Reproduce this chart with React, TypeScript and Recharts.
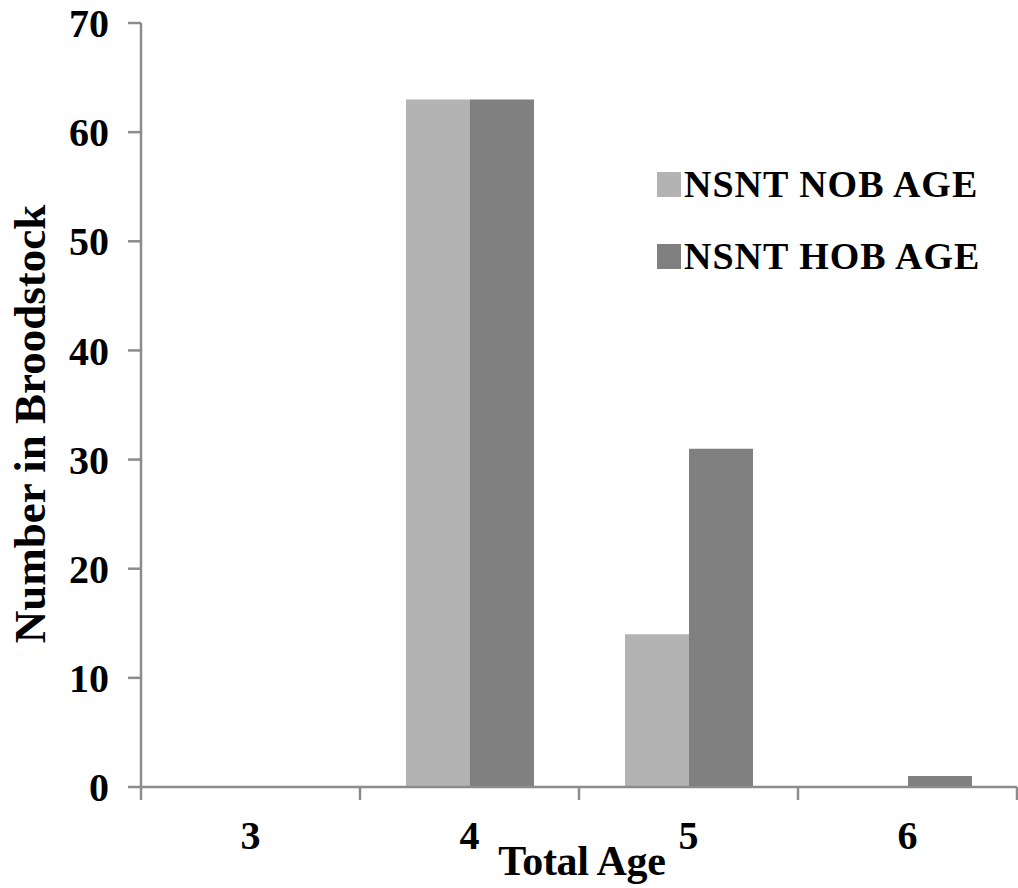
import React from "react";
import { BarChart, Bar, XAxis, YAxis, Legend } from "recharts";

const ages = ["3", "4", "5", "6"];
const nobAge = [0, 63, 14, 0];
const hobAge = [0, 63, 31, 1];
const yTicks = [0, 10, 20, 30, 40, 50, 60, 70];

const seriesNames = { nob: "NSNT NOB AGE", hob: "NSNT HOB AGE" };
const colors = { nob: "#b3b3b3", hob: "#808080" };

const data = ages.map((age, i) => ({ age, nob: nobAge[i], hob: hobAge[i] }));

const W = 1018;
const H = 888;
const LEFT = 141;
const RIGHT = 1;
const PLOT_W = W - LEFT - RIGHT;
const FONT = "'Liberation Serif', 'Times New Roman', serif";
const AXIS = "#8c8c8c";

// tick mark between categories, label in the middle
function AgeTick(props: any) {
  const { x, y, payload, index } = props;
  const band = PLOT_W / ages.length;
  return (
    <g>
      <line x1={x - band / 2} x2={x - band / 2} y1={y} y2={y + 13} stroke={AXIS} strokeWidth={2.5} />
      {index === ages.length - 1 && (
        <line x1={x + band / 2} x2={x + band / 2} y1={y} y2={y + 13} stroke={AXIS} strokeWidth={2.5} />
      )}
      <text x={x} y={y + 62} textAnchor="middle" fontFamily={FONT} fontWeight="bold" fontSize={40} fill="#000">
        {payload.value}
      </text>
    </g>
  );
}

function YLabel(props: any) {
  const { viewBox } = props;
  const cx = viewBox.x + 30;
  const cy = viewBox.y + viewBox.height / 2 + 19;
  return (
    <text
      x={cx}
      y={cy}
      transform={`rotate(-90 ${cx} ${cy})`}
      textAnchor="middle"
      dominantBaseline="central"
      fontFamily={FONT}
      fontWeight="bold"
      fontSize={45}
      fill="#000"
    >
      Number in Broodstock
    </text>
  );
}

function XLabel(props: any) {
  const { viewBox } = props;
  return (
    <text
      x={viewBox.x + viewBox.width / 2 + 3}
      y={viewBox.y + 88}
      textAnchor="middle"
      fontFamily={FONT}
      fontWeight="bold"
      fontSize={42}
      letterSpacing={-0.3}
      fill="#000"
    >
      Total Age
    </text>
  );
}

function LegendBox() {
  const rows = [
    { key: "nob", label: seriesNames.nob, color: colors.nob },
    { key: "hob", label: seriesNames.hob, color: colors.hob },
  ];
  return (
    <div style={{ fontFamily: FONT, fontWeight: "bold", fontSize: 38, color: "#000" }}>
      {rows.map((r) => (
        <div key={r.key} style={{ display: "flex", alignItems: "center", height: 72 }}>
          <div style={{ width: 24, height: 25, background: r.color, marginRight: 3 }} />
          <span style={{ letterSpacing: 1, whiteSpace: "nowrap", lineHeight: 1 }}>{r.label}</span>
        </div>
      ))}
    </div>
  );
}

export default function App() {
  return (
    <div style={{ position: "absolute", left: 0, top: 0, width: W, height: H, background: "#fff" }}>
      <BarChart
        width={W}
        height={H}
        data={data}
        margin={{ top: 23, right: RIGHT, left: 0, bottom: 0 }}
        barCategoryGap="21%"
        barGap={0}
      >
        <XAxis
          dataKey="age"
          height={101}
          axisLine={{ stroke: AXIS, strokeWidth: 2.5 }}
          tickLine={false}
          tickSize={0}
          tickMargin={0}
          tick={<AgeTick />}
          interval={0}
          label={<XLabel />}
        />
        <YAxis
          width={LEFT}
          domain={[0, 70]}
          ticks={yTicks}
          interval={0}
          axisLine={{ stroke: AXIS, strokeWidth: 2.5 }}
          tickLine={{ stroke: AXIS, strokeWidth: 2.5 }}
          tickSize={13}
          tickMargin={19}
          tick={{ fontFamily: FONT, fontWeight: "bold", fontSize: 40, fill: "#000" }}
          label={<YLabel />}
        />
        <Legend
          layout="horizontal"
          verticalAlign="middle"
          align="center"
          content={<LegendBox />}
          wrapperStyle={{ top: 148, left: 657, width: 361, bottom: "auto" }}
        />
        <Bar dataKey="nob" name={seriesNames.nob} fill={colors.nob} isAnimationActive={false} />
        <Bar dataKey="hob" name={seriesNames.hob} fill={colors.hob} isAnimationActive={false} />
      </BarChart>
    </div>
  );
}
